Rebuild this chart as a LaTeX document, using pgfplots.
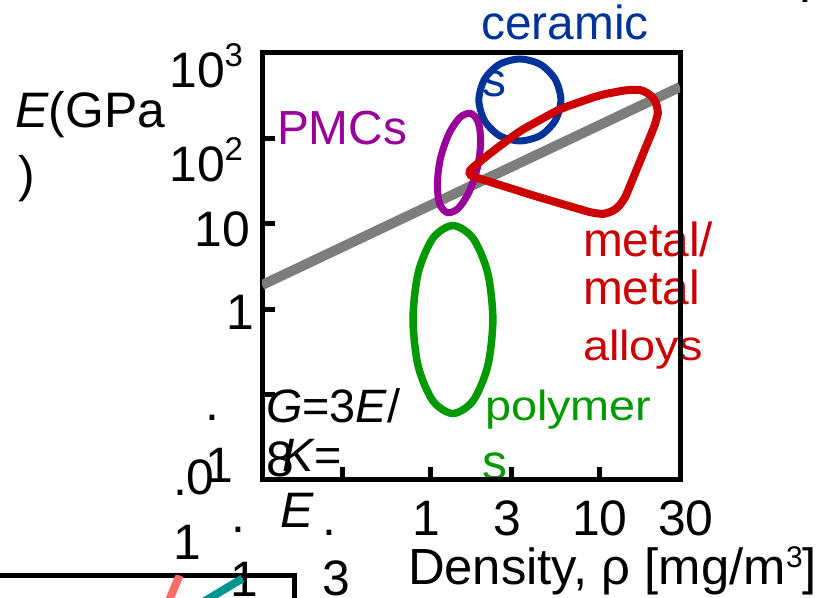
\documentclass[border=0pt]{standalone}
\usepackage{pgfplots}
\pgfplotsset{compat=1.18}
\usepackage{graphicx}
\usepackage{fontspec}
\setmainfont{Liberation Sans}
\definecolor{cblue}{RGB}{0,51,153}
\definecolor{cred}{RGB}{204,0,0}
\definecolor{cgreen}{RGB}{0,153,0}
\definecolor{cpurple}{RGB}{153,0,153}
\definecolor{cgray}{RGB}{125,125,125}
\definecolor{csalmon}{RGB}{250,108,104}
\definecolor{cteal}{RGB}{0,150,143}
\tikzset{t/.style={inner sep=0pt, outer sep=0pt, font=\fontsize{50}{50}\selectfont}}
\begin{document}
\begin{tikzpicture}
\path[use as bounding box] (0,0) rectangle (839bp,598bp);
\clip (0,0) rectangle (839bp,598bp);
% ---- text (pixel coordinates, y downward) ----
\begin{scope}[x=1bp, y=-1bp, yshift=598bp]
\node[t, anchor=base west] at (15,128) {\textit{E}(GPa};
\node[t, anchor=base west] at (18,192) {)};
\node[t, anchor=base east] at (243,88) {10\raisebox{21bp}{\fontsize{33}{33}\selectfont 3}};
\node[t, anchor=base east] at (243,182) {10\raisebox{21bp}{\fontsize{33}{33}\selectfont 2}};
\node[t, anchor=base east] at (250,247) {10};
\node[t, anchor=base east] at (254,330) {1};
\node[t, anchor=base west, text=cpurple, font=\fontsize{48}{48}\selectfont] at (277,145) {PMCs};
\node[t, anchor=base, text=cblue, font=\fontsize{48}{48}\selectfont] at (565,40) {ceramic};
\node[t, anchor=base, text=cblue, font=\fontsize{48}{48}\selectfont] at (494,97) {s};
\node[t, anchor=base west, text=cred, font=\fontsize{48}{48}\selectfont] at (583,257) {metal/};
\node[t, anchor=base west, text=cred, font=\fontsize{48}{48}\selectfont] at (583,305) {metal};
\node[t, anchor=base west, text=cred] at (583,361) {\scalebox{1}[0.9]{\fontsize{47}{47}\selectfont alloys}};
\node[t, anchor=base west, text=cgreen] at (485,421) {\scalebox{1}[0.9]{\fontsize{47}{47}\selectfont polymer}};
\node[t, anchor=base, text=cgreen, font=\fontsize{50}{50}\selectfont] at (495,480) {s};
\node[t, anchor=base west, font=\fontsize{47}{47}\selectfont] at (266,423) {\textit{G}=3\textit{E}/};
\node[t, anchor=base west] at (266,477) {8};
\node[t, anchor=base west, font=\fontsize{47}{47}\selectfont] at (282,472) {\textit{K}=};
\node[t, anchor=base west] at (280,528) {\textit{E}};
\node[t, anchor=base west] at (205,421) {.};
\node[t, anchor=base west] at (173,496) {.};
\node[t, anchor=base west] at (231,533) {.};
\node[t, anchor=base west] at (322,536) {.};
\node[t, anchor=base west] at (798,3) {.};
\node[t, anchor=base] at (200,495) {0};
\node[t, anchor=base] at (219,483) {1};
\node[t, anchor=base] at (187,560) {1};
\node[t, anchor=base] at (244,597) {1};
\node[t, anchor=base] at (336,596) {3};
\node[t, anchor=base] at (426,536) {1};
\node[t, anchor=base] at (507,536) {3};
\node[t, anchor=base] at (600,536) {10};
\node[t, anchor=base] at (686,536) {30};
\node[t, anchor=base west, font=\fontsize{51}{51}\selectfont] at (408,585) {Density, ρ [mg/m\raisebox{17bp}{\fontsize{30}{30}\selectfont 3}]};
\end{scope}
% ---- main axis (log10 values) ----
\begin{axis}[at={(262bp,118bp)}, anchor=south west, scale only axis,
  width=418bp, height=427bp,
  xmin=-1, xmax=1.477, ymin=-2, ymax=3,
  axis line style={line width=5bp, black},
  xtick={-0.523,0,0.477,1}, ytick={-1,0,1,2},
  xticklabels={}, yticklabels={},
  tick style={line width=5bp, black},
  major tick length=13bp, tick align=inside,
  xtick pos=bottom, ytick pos=left]
\addplot[cgray, line width=10bp] coordinates {(-1,0.283) (1.477,2.602)};
% ceramics
\addplot[cblue, line width=7bp, smooth cycle] coordinates {
 (0.771,2.450) (0.738,2.690) (0.650,2.866) (0.528,2.930) (0.406,2.866) (0.318,2.690)
 (0.285,2.450) (0.318,2.210) (0.406,2.034) (0.528,1.970) (0.650,2.034) (0.738,2.210)};
% PMCs
\addplot[cpurple, line width=7bp, smooth cycle] coordinates {
 (0.235,2.294) (0.281,2.192) (0.296,1.960) (0.277,1.662) (0.228,1.377) (0.164,1.183)
 (0.100,1.130) (0.053,1.232) (0.039,1.464) (0.057,1.762) (0.106,2.047) (0.171,2.241)};
% polymers
\addplot[cgreen, line width=7.5bp, smooth cycle] coordinates {
 (0.368,-0.121) (0.337,0.429) (0.250,0.832) (0.131,0.979) (0.013,0.832) (-0.074,0.429)
 (-0.105,-0.121) (-0.074,-0.671) (0.013,-1.074) (0.131,-1.221) (0.250,-1.074) (0.337,-0.671)};
% metals
\addplot[cred, line width=8bp, rounded corners=9bp] coordinates {
 (0.617,1.326) (0.203,1.583) (0.339,1.806) (0.528,2.087) (0.765,2.344) (1.002,2.508)
 (1.192,2.578) (1.287,2.555) (1.352,2.379) (1.340,2.215) (1.139,1.244) (1.062,1.115)
 (0.979,1.115) (0.617,1.326)};
\end{axis}
% ---- partial second chart, bottom left ----
\begin{axis}[at={(294.5bp,22.5bp)}, anchor=north east, scale only axis,
  width=300bp, height=100bp, xmin=0, xmax=300, ymin=0, ymax=100,
  axis line style={line width=4.5bp, black}, ticks=none]
\addplot[csalmon, line width=8bp] coordinates {(167.5,58) (185,100)};
\addplot[cteal, line width=8bp] coordinates {(186,60) (248,97)};
\end{axis}
\end{tikzpicture}
\end{document}
